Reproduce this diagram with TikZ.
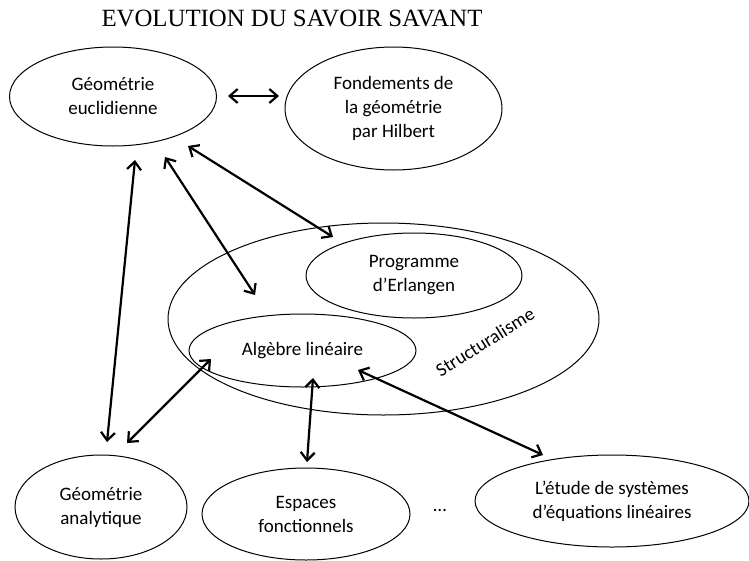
\documentclass[tikz,border=0pt]{standalone}
\usepackage{fontspec}
\setmainfont{Carlito}
\newfontfamily\titlefont{Liberation Serif}
\usetikzlibrary{shapes.geometric,arrows.meta}
\begin{document}
\begin{tikzpicture}[x=1pt,y=-1pt,
  ell/.style={draw, ellipse, line width=1pt, inner sep=0pt, align=center,
              font=\fontsize{19}{24}\selectfont},
  lbl/.style={inner sep=0pt, font=\fontsize{19}{24}\selectfont},
  arr/.style={line width=2.2pt,
              {Straight Barb[length=8pt,width=14pt]}-{Straight Barb[length=8pt,width=14pt]}}]
\useasboundingbox (0,0) rectangle (749,560);

% title
\node[inner sep=0pt, font=\titlefont\fontsize{24.8}{28}\selectfont, anchor=base]
  (title) at (292,26) {EVOLUTION DU SAVOIR SAVANT};

% ellipses
\node[ell, minimum width=207pt, minimum height=99pt] (ge) at (113,96.5)
  {Géométrie\\euclidienne};
\node[ell, minimum width=217pt, minimum height=123pt] (fh) at (393.5,108.5)
  {Fondements de\\la géométrie\\par Hilbert};
\node[ell, minimum width=431pt, minimum height=192pt] (st) at (383.5,319) {};
\node[ell, minimum width=216pt, minimum height=85pt] (pe) at (414,275.5)
  {Programme\\d’Erlangen};
\node[ell, minimum width=227pt, minimum height=73pt] (al) at (302.5,350.5)
  {Algèbre linéaire};
\node[lbl, rotate=32] (stl) at (485,342) {Structuralisme};
\node[ell, minimum width=172pt, minimum height=104pt] (ga) at (101,507)
  {Géométrie\\analytique};
\node[ell, minimum width=208pt, minimum height=92pt] (ef) at (306,514)
  {Espaces\\fonctionnels};
\node[lbl] (dots) at (440,510) {…};
\node[ell, minimum width=274pt, minimum height=92pt] (es) at (612,501)
  {L’étude de systèmes\\d’équations linéaires};

% arrow end points
\coordinate (a0s) at (228,96);  \coordinate (a0e) at (279,96);
\coordinate (a1s) at (135,160); \coordinate (a1e) at (107,442);
\coordinate (a2s) at (165,157); \coordinate (a2e) at (255,295);
\coordinate (a3s) at (188,146); \coordinate (a3e) at (333,237);
\coordinate (a4s) at (211,359); \coordinate (a4e) at (127,443);
\coordinate (a5s) at (313,378); \coordinate (a5e) at (307,462);
\coordinate (a6s) at (358,370); \coordinate (a6e) at (543,455);

\draw[arr] (a0s) -- (a0e);
\draw[arr] (a1s) -- (a1e);
\draw[arr] (a2s) -- (a2e);
\draw[arr] (a3s) -- (a3e);
\draw[arr] (a4s) -- (a4e);
\draw[arr] (a5s) -- (a5e);
\draw[arr] (a6s) -- (a6e);
\end{tikzpicture}
\end{document}
